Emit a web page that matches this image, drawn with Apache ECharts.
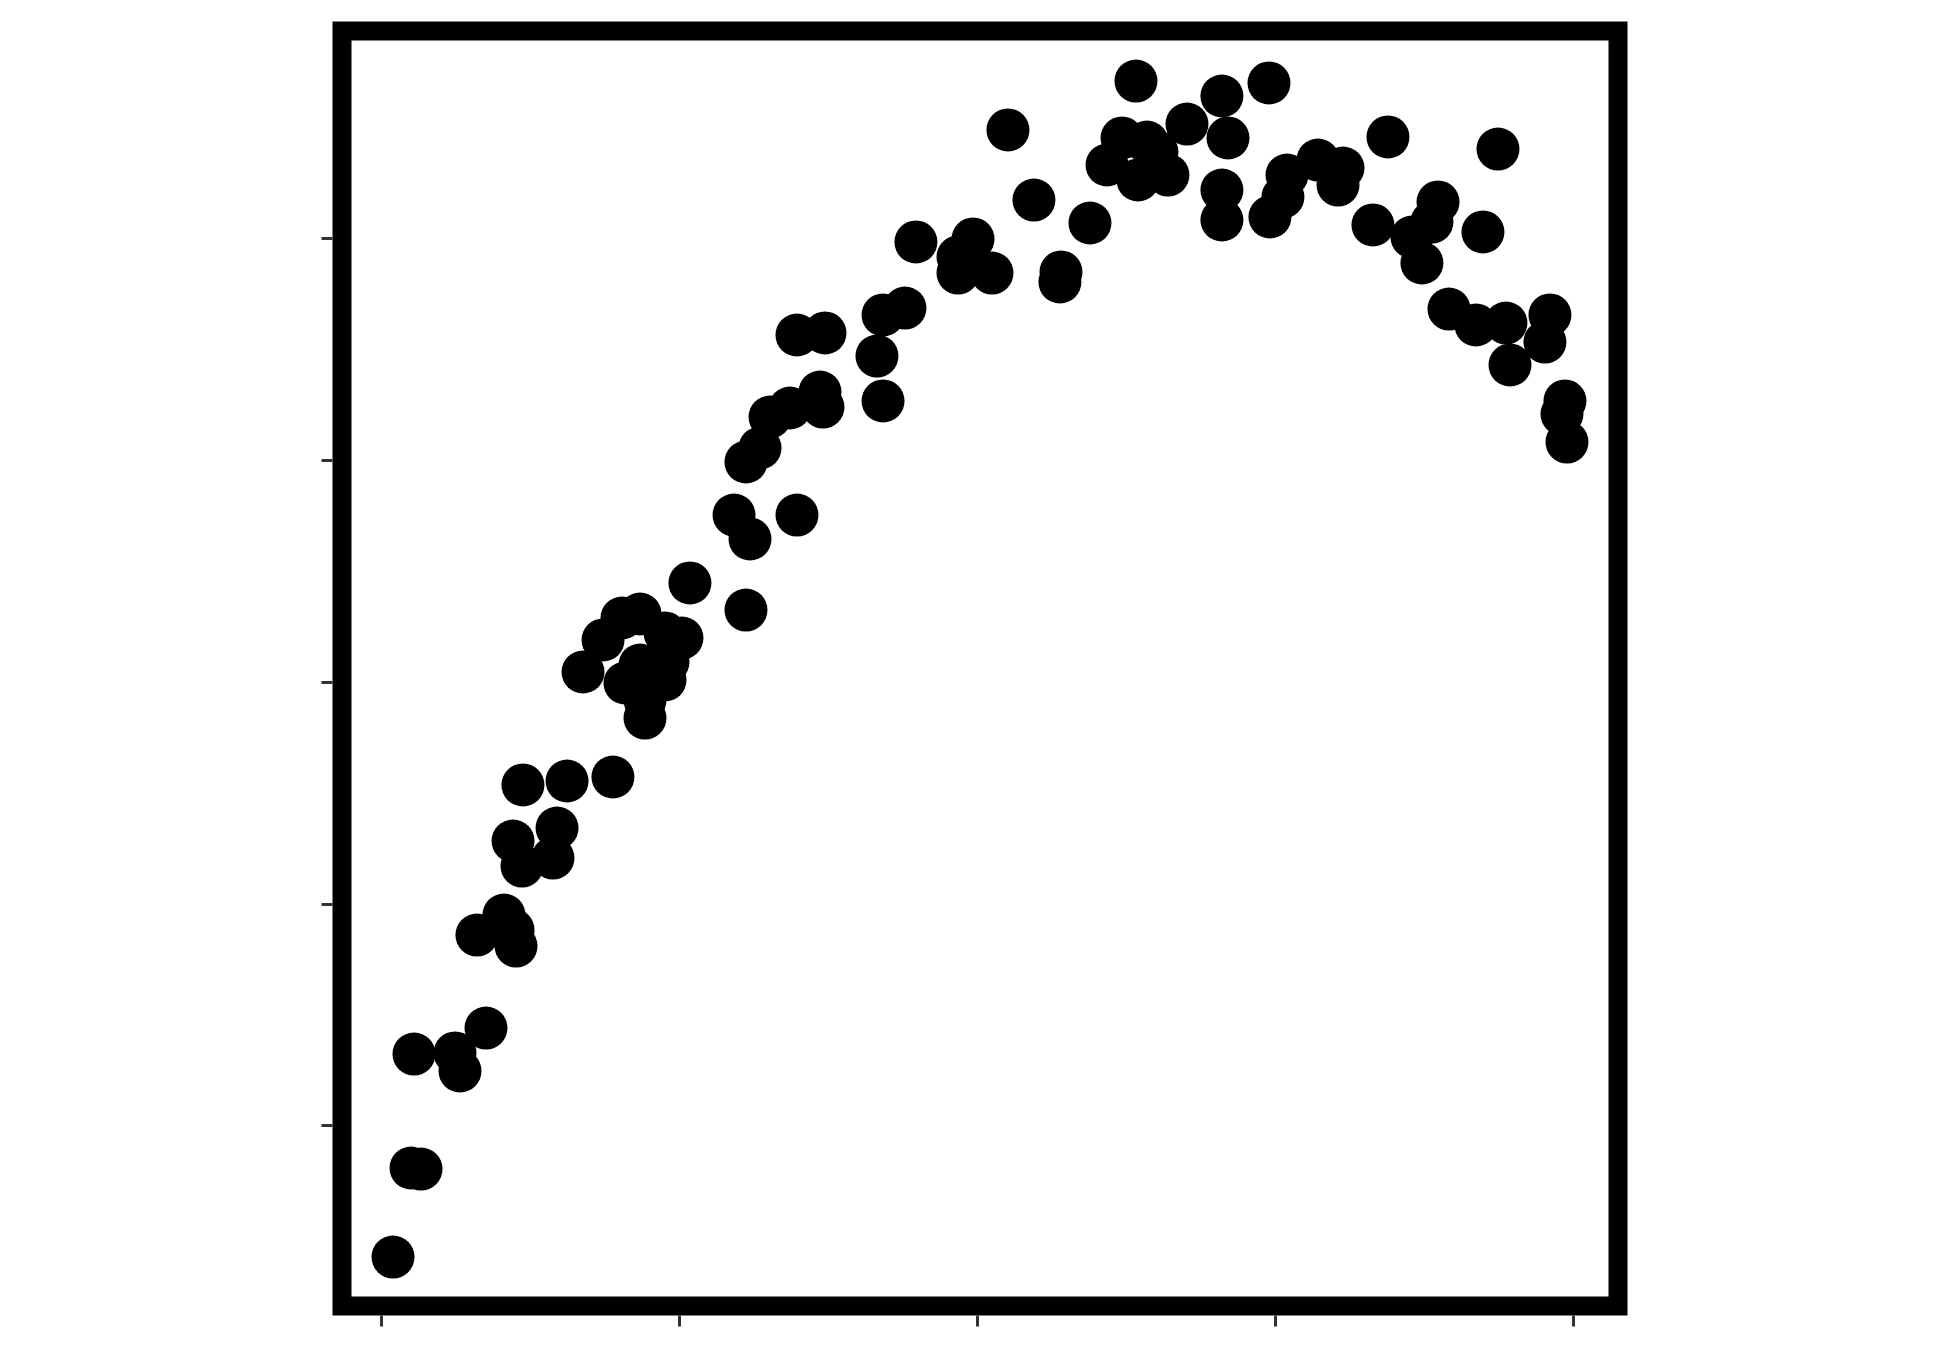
<!DOCTYPE html>
<html>
<head>
<meta charset="utf-8">
<script src="https://cdn.jsdelivr.net/npm/echarts@6.0.0/dist/echarts.min.js"></script>
<style>
html, body { margin: 0; padding: 0; background: #ffffff; }
#chart { width: 1950px; height: 1349px; }
</style>
</head>
<body>
<div id="chart"></div>
<script>
// Data values
const xValues = [
  0.95, 2.46, 3.30, 2.71, 6.15, 6.57, 8.75, 7.99, 10.26, 11.02,
  11.27, 11.02, 14.71, 11.77, 14.37, 11.85, 15.55, 19.40, 16.89, 18.57,
  20.16, 21.67, 23.77, 25.19, 24.02, 23.77, 20.41, 21.67, 22.09, 22.09,
  25.86, 30.56, 29.56, 30.90, 34.84, 30.56, 31.74, 32.58, 34.25, 36.77,
  37.02, 34.84, 37.19, 42.06, 43.90, 41.55, 42.06, 52.54, 54.72, 59.42,
  44.82, 49.61, 48.35, 48.35, 51.20, 56.99, 56.90, 63.28, 70.49, 74.44,
  67.56, 71.00, 60.85, 62.11, 64.20, 65.04, 63.45, 65.96, 70.49, 70.49,
  74.52, 75.61, 75.95, 78.55, 80.23, 80.65, 84.42, 93.65, 83.16, 88.62,
  88.11, 86.43, 87.27, 92.39, 89.54, 91.80, 94.32, 98.01, 97.59, 94.66,
  99.27, 99.02, 99.44
];
const yValues = [
  -14.83, -4.79, -4.91, 8.06, 8.18, 6.15, 10.99, 21.48, 23.74, 22.05,
  20.24, 32.08, 33.55, 29.26, 30.16, 38.40, 38.85, 39.30, 51.14, 54.75,
  57.23, 57.68, 55.54, 54.97, 52.27, 50.24, 49.90, 51.93, 47.98, 45.95,
  61.18, 58.13, 68.84, 66.14, 68.84, 74.82, 76.40, 79.89, 80.91, 82.71,
  81.02, 89.14, 89.37, 91.40, 92.18, 86.77, 81.70, 112.26, 104.36, 101.77,
  99.63, 99.97, 97.94, 96.13, 96.13, 96.25, 95.12, 117.78, 116.09, 117.56,
  112.93, 111.36, 108.31, 111.36, 110.90, 109.78, 106.62, 107.18, 105.49, 102.11,
  102.45, 104.70, 107.18, 108.87, 106.05, 107.97, 111.47, 110.11, 101.55, 104.14,
  101.88, 100.19, 97.26, 100.76, 92.07, 90.27, 90.49, 91.40, 88.35, 85.76,
  81.70, 80.23, 77.07
];
const xTicks = [0, 25, 50, 75, 100];
const yTicks = [0, 25, 50, 75, 100];

const points = xValues.map((x, i) => [x, yValues[i]]);

const chart = echarts.init(document.getElementById('chart'), null, { renderer: 'canvas' });
chart.setOption({
  animation: false,
  backgroundColor: '#ffffff',
  grid: {
    left: 342, top: 31, right: 332, bottom: 43,
    show: true,
    borderColor: '#000000',
    borderWidth: 19,
    backgroundColor: 'transparent'
  },
  xAxis: {
    type: 'value',
    position: 'bottom',
    min: -3.33, max: 103.72,
    offset: 9.5,
    axisLine: { show: false, onZero: false },
    axisTick: { show: true, inside: false, length: 11, customValues: xTicks, lineStyle: { color: '#333333', width: 3 } },
    axisLabel: { show: false },
    splitLine: { show: false }
  },
  yAxis: {
    type: 'value',
    position: 'left',
    min: -20.35, max: 123.42,
    offset: 9.5,
    axisLine: { show: false, onZero: false },
    axisTick: { show: true, inside: false, length: 11, customValues: yTicks, lineStyle: { color: '#333333', width: 3 } },
    axisLabel: { show: false },
    splitLine: { show: false }
  },
  series: [{
    type: 'custom',
    data: points,
    clip: false,
    renderItem: function (params, api) {
      const p = api.coord([api.value(0), api.value(1)]);
      return {
        type: 'circle',
        shape: { cx: p[0], cy: p[1], r: 21.5 },
        style: { fill: '#000000', stroke: null, lineWidth: 0 }
      };
    }
  }]
});
</script>
</body>
</html>
